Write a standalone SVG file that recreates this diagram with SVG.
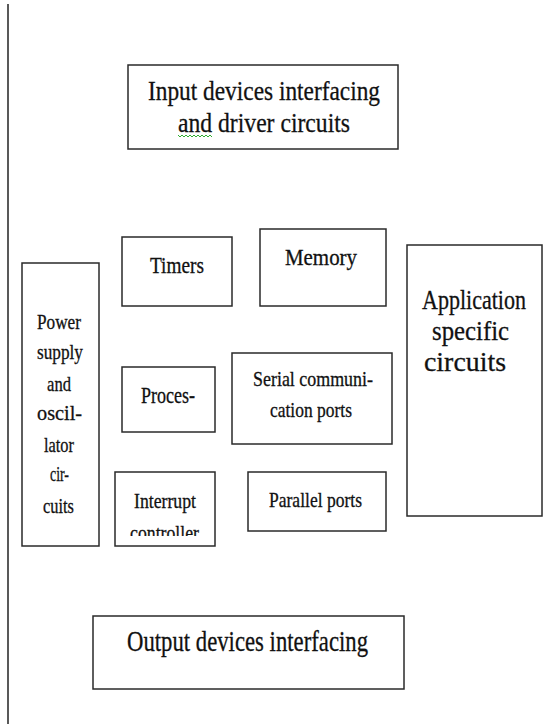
<svg xmlns="http://www.w3.org/2000/svg" width="553" height="724" viewBox="0 0 553 724">
  <style>
    .box { fill: #ffffff; stroke: #2a2a2a; stroke-width: 1.5; }
    .t { font-family: "Liberation Serif", "Times New Roman", serif; fill: #111111; stroke: #111111; stroke-width: 0.3; }
    .big { font-size: 28px; }
    .xl { font-size: 30px; }
    .mid { font-size: 23px; }
    .sm { font-size: 21px; }
    .rule { stroke: #222222; stroke-width: 1.5; }
  </style>
  <defs>
    <clipPath id="intClip">
      <rect x="115" y="472" width="100" height="64"/>
    </clipPath>
  </defs>
  <rect width="553" height="724" fill="#ffffff"/>

  <!-- page margin rule -->
  <line class="rule" x1="8" y1="4" x2="8" y2="724"/>

  <g id="connectors"></g>

  <g id="input-devices">
    <rect class="box" x="128" y="65" width="270" height="84"/>
    <text class="t big" x="148" y="100" textLength="232" lengthAdjust="spacingAndGlyphs">Input devices interfacing</text>
    <text class="t big" x="178" y="132" textLength="172" lengthAdjust="spacingAndGlyphs">and driver circuits</text>
    <!-- spell-check squiggle -->
    <path d="M178,135 l2,2 l2,-2 l2,2 l2,-2 l2,2 l2,-2 l2,2 l2,-2 l2,2 l2,-2 l2,2 l2,-2 l2,2 l2,-2 l2,2 l2,-2 l2,2" fill="none" stroke="#2fae2f" stroke-width="1"/>
  </g>

  <g id="timers">
    <rect class="box" x="122" y="237" width="110" height="69"/>
    <text class="t mid" x="150" y="273" textLength="54" lengthAdjust="spacingAndGlyphs">Timers</text>
  </g>

  <g id="memory">
    <rect class="box" x="260" y="229" width="126" height="77"/>
    <text class="t mid" x="285" y="265" textLength="72" lengthAdjust="spacingAndGlyphs">Memory</text>
  </g>

  <g id="application">
    <rect class="box" x="407" y="245" width="135" height="271"/>
    <text class="t big" x="422" y="309" textLength="104" lengthAdjust="spacingAndGlyphs">Application</text>
    <text class="t big" x="432" y="340" textLength="77" lengthAdjust="spacingAndGlyphs">specific</text>
    <text class="t big" x="424" y="371" textLength="82" lengthAdjust="spacingAndGlyphs">circuits</text>
  </g>

  <g id="power">
    <rect class="box" x="22" y="263" width="77" height="283"/>
    <text class="t sm" x="37" y="329" textLength="44" lengthAdjust="spacingAndGlyphs">Power</text>
    <text class="t sm" x="37" y="359" textLength="46" lengthAdjust="spacingAndGlyphs">supply</text>
    <text class="t sm" x="47" y="391" textLength="24" lengthAdjust="spacingAndGlyphs">and</text>
    <text class="t sm" x="37" y="420" textLength="45" lengthAdjust="spacingAndGlyphs">oscil-</text>
    <text class="t sm" x="44" y="452" textLength="30" lengthAdjust="spacingAndGlyphs">lator</text>
    <text class="t sm" x="50" y="481" textLength="19" lengthAdjust="spacingAndGlyphs">cir-</text>
    <text class="t sm" x="43" y="513" textLength="31" lengthAdjust="spacingAndGlyphs">cuits</text>
  </g>

  <g id="processor">
    <rect class="box" x="122" y="367" width="93" height="65"/>
    <text class="t mid" x="141" y="403" textLength="54" lengthAdjust="spacingAndGlyphs">Proces-</text>
  </g>

  <g id="serial">
    <rect class="box" x="232" y="353" width="160" height="91"/>
    <text class="t sm" x="253" y="386" textLength="120" lengthAdjust="spacingAndGlyphs">Serial communi-</text>
    <text class="t sm" x="270" y="417" textLength="82" lengthAdjust="spacingAndGlyphs">cation ports</text>
  </g>

  <g id="interrupt">
    <rect class="box" x="115" y="472" width="100" height="74"/>
    <g clip-path="url(#intClip)">
      <text class="t sm" x="134" y="508" textLength="62" lengthAdjust="spacingAndGlyphs">Interrupt</text>
      <text class="t sm" x="130" y="540" textLength="69" lengthAdjust="spacingAndGlyphs">controller</text>
    </g>
  </g>

  <g id="parallel">
    <rect class="box" x="248" y="472" width="138" height="59"/>
    <text class="t sm" x="269" y="507" textLength="93" lengthAdjust="spacingAndGlyphs">Parallel ports</text>
  </g>

  <g id="output-devices">
    <rect class="box" x="93" y="616" width="311" height="73"/>
    <text class="t xl" x="127" y="651" textLength="241" lengthAdjust="spacingAndGlyphs">Output devices interfacing</text>
  </g>
</svg>
